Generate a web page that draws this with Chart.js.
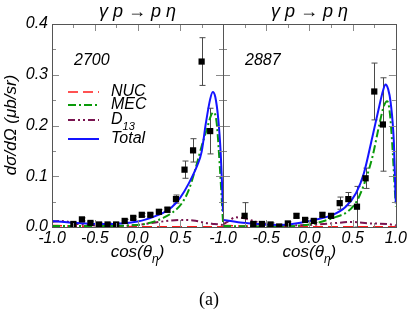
<!DOCTYPE html>
<html><head><meta charset="utf-8">
<script src="https://cdn.jsdelivr.net/npm/chart.js@4.4.0/dist/chart.umd.min.js"></script>
<style>
html,body{margin:0;padding:0;background:#fff;overflow:hidden}
#wrap{position:relative;width:409px;height:314px;background:#fff}
canvas{position:absolute;left:0;top:0}
</style></head><body>
<div id="wrap"><canvas id="c1" width="409" height="314"></canvas><canvas id="c2" width="409" height="314"></canvas></div>
<script>
// ---------- data ----------
const panelTitles = ['γ p → p η', 'γ p → p η'];
const panelEnergies = ['2700', '2887'];
const legendLabels = ['NUC', 'MEC', 'D', 'Total'];
const xTickVals = [-1.0, -0.75, -0.5, -0.25, 0.0, 0.25, 0.5, 0.75, 1.0];
const yTickVals = [0.0, 0.05, 0.1, 0.15, 0.2, 0.25, 0.3, 0.35, 0.4];

// measured points (cos theta)
const ptX = [-0.75,-0.65,-0.55,-0.45,-0.35,-0.25,-0.15,-0.05,0.05,0.15,0.25,0.35,0.45,0.55,0.65,0.75,0.85];
const leftPtY   = [0.006,0.015,0.008,0.005,0.005,0.005,0.012,0.018,0.024,0.024,0.030,0.034,0.055,0.113,0.151,0.326,0.189];
const leftPtErr = [0.003,0.003,0.003,0.003,0.003,0.003,0.003,0.003,0.003,0.003,0.004,0.005,0.008,0.017,0.023,0.047,0.045];
const rightPtY   = [0.022,0.006,0.006,0.005,0.001,0.007,0.022,0.014,0.012,0.024,0.022,0.047,0.055,0.040,0.096,0.267,0.202];
const rightPtErr = [0.026,0.003,0.003,0.003,0.003,0.003,0.004,0.003,0.003,0.004,0.004,0.012,0.013,0.040,0.020,0.056,0.092];

// left panel curves
const lTotX = [-1.0,-0.8,-0.6,-0.4,-0.2,0.0,0.1,0.2,0.3,0.4,0.5,0.6,0.7,0.75,0.8,0.85,0.88,0.91,0.945,0.973,0.99,1.0];
const lTotY = [0.012,0.009,0.007,0.006,0.007,0.011,0.015,0.021,0.028,0.039,0.058,0.086,0.122,0.148,0.205,0.252,0.266,0.256,0.212,0.146,0.080,0.030];
const lMecX = [-1.0,-0.5,0.0,0.15,0.3,0.42,0.52,0.6,0.67,0.75,0.81,0.86,0.89,0.926,0.965,0.99,1.0];
const lMecY = [0.002,0.002,0.004,0.0085,0.018,0.030,0.047,0.073,0.110,0.159,0.192,0.220,0.226,0.205,0.113,0.040,0.010];
const lNucX = [-1.0,-0.8,-0.5,0.0,0.5,1.0];
const lNucY = [0.003,0.002,0.001,0.0006,0.0005,0.0005];
const lD13X = [-1.0,-0.92,-0.8,-0.7,-0.5,-0.3,0.0,0.25,0.5,0.65,0.8,0.9,1.0];
const lD13Y = [0.010,0.012,0.010,0.006,0.003,0.002,0.004,0.010,0.014,0.013,0.008,0.006,0.004];

// right panel curves
const rTotX = [-1.0,-0.8,-0.6,-0.35,-0.2,0.0,0.27,0.42,0.54,0.63,0.73,0.8,0.85,0.88,0.91,0.94,0.977,0.995,1.0];
const rTotY = [0.014,0.009,0.006,0.004,0.006,0.012,0.024,0.040,0.067,0.106,0.179,0.232,0.268,0.281,0.272,0.245,0.166,0.067,0.047];
const rMecX = [-1.0,-0.5,0.0,0.31,0.44,0.555,0.65,0.73,0.805,0.86,0.9,0.93,0.957,0.99,1.0];
const rMecY = [0.002,0.001,0.005,0.020,0.030,0.053,0.093,0.139,0.199,0.238,0.248,0.225,0.166,0.067,0.040];
const rNucX = [-1.0,-0.8,-0.5,0.0,0.5,1.0];
const rNucY = [0.003,0.002,0.001,0.0006,0.0005,0.0005];
const rD13X = [-1.0,-0.93,-0.86,-0.75,-0.65,-0.54,-0.3,0.0,0.25,0.5,0.7,0.9,1.0];
const rD13Y = [0.005,0.012,0.019,0.017,0.012,0.007,0.003,0.004,0.007,0.010,0.007,0.006,0.003];

// ---------- styles ----------
const FONT = '"Liberation Sans", Arial, sans-serif';
const C_TOT = '#1414ff', C_MEC = '#0a9a0a', C_NUC = '#ff1a1a', C_D13 = '#7a1450';
const DASH_NUC = [10,5], DASH_MEC = [8,3,2,3], DASH_D13 = [7,3,2,3,2,3];

function xy(xs, ys){ return xs.map((x,i)=>({x:x, y:ys[i]})); }
function curve(xs, ys, color, w, dash, order){
  return {type:'scatter', data:xy(xs,ys), showLine:true, pointRadius:0, borderColor:color, backgroundColor:color,
          borderWidth:w, borderDash:dash, cubicInterpolationMode:'monotone', order:order};
}
function pointsSet(ys, errs){
  return {type:'scatter', data:xy(ptX,ys), pointStyle:'rect', pointRadius:4.4, backgroundColor:'#000',
          borderColor:'#000', borderWidth:0, order:0, errors:errs};
}

function panelPlugin(idx){
  return {
    id:'panel'+idx,
    beforeDatasetsDraw(chart){
      const ctx = chart.ctx, xs = chart.scales.x, ys = chart.scales.y, a = chart.chartArea;
      ctx.save();
      ctx.beginPath(); ctx.rect(a.left, a.top, a.right-a.left, a.bottom-a.top); ctx.clip();
      ctx.strokeStyle = '#4a4a4a'; ctx.lineWidth = 1;
      chart.data.datasets.forEach(ds=>{
        if(!ds.errors) return;
        ds.data.forEach((p,i)=>{
          const e = ds.errors[i];
          const px = Math.round(xs.getPixelForValue(p.x))+0.5;
          const y1 = ys.getPixelForValue(p.y+e), y2 = ys.getPixelForValue(p.y-e);
          ctx.beginPath();
          ctx.moveTo(px,y1); ctx.lineTo(px,y2);
          ctx.moveTo(px-3,y1); ctx.lineTo(px+3,y1);
          ctx.moveTo(px-3,y2); ctx.lineTo(px+3,y2);
          ctx.stroke();
        });
      });
      ctx.restore();
    },
    afterDraw(chart){
      const ctx = chart.ctx, xs = chart.scales.x, ys = chart.scales.y, a = chart.chartArea;
      ctx.save();
      // ticks inward
      ctx.strokeStyle = '#8a8a8a'; ctx.lineWidth = 1;
      ctx.beginPath();
      xTickVals.forEach(v=>{
        const px = Math.round(xs.getPixelForValue(v))+0.5;
        const L = (Math.abs(v*2 - Math.round(v*2))<1e-6) ? 7 : 4;
        ctx.moveTo(px,a.bottom); ctx.lineTo(px,a.bottom-L);
        ctx.moveTo(px,a.top); ctx.lineTo(px,a.top+L);
      });
      yTickVals.forEach(v=>{
        const py = Math.round(ys.getPixelForValue(v))+0.5;
        const L = (Math.abs(v*10 - Math.round(v*10))<1e-6) ? 7 : 4;
        ctx.moveTo(a.left,py); ctx.lineTo(a.left+L,py);
        ctx.moveTo(a.right,py); ctx.lineTo(a.right-L,py);
      });
      ctx.stroke();
      // frame
      ctx.strokeStyle = '#555'; ctx.lineWidth = 1;
      ctx.strokeRect(Math.round(a.left)+0.5, Math.round(a.top)+0.5, Math.round(a.right-a.left), Math.round(a.bottom-a.top));
      const cx = (a.left+a.right)/2;
      ctx.fillStyle = '#000';
      // title
      ctx.font = 'italic 18px ' + FONT; ctx.textAlign='center'; ctx.textBaseline='middle';
      ctx.fillText(panelTitles[idx], cx, 12);
      // energy
      ctx.font = 'italic 16px ' + FONT; ctx.textAlign='left';
      ctx.fillText(panelEnergies[idx], a.left+22, 61);
      // x title cos(θη)
      const f1 = 'italic 17px '+FONT, f2 = 'italic 12px '+FONT;
      ctx.textBaseline='alphabetic'; ctx.textAlign='left';
      ctx.font=f1; const w1 = ctx.measureText('cos(θ').width, w3 = ctx.measureText(')').width;
      ctx.font=f2; const w2 = ctx.measureText('η').width;
      let sx = cx - (w1+w2+w3)/2;
      ctx.font=f1; ctx.fillText('cos(θ', sx, 257);
      ctx.font=f2; ctx.fillText('η', sx+w1, 263);
      ctx.font=f1; ctx.fillText(')', sx+w1+w2, 257);
      if(idx===0){
        // y title
        ctx.save();
        ctx.translate(11, 125); ctx.rotate(-Math.PI/2);
        ctx.font = 'italic 17px '+FONT; ctx.textAlign='center'; ctx.textBaseline='middle';
        ctx.fillText('dσ/dΩ (μb/sr)', 0, 0);
        ctx.restore();
        // legend
        const rows = [
          {y:92, c:C_NUC, d:DASH_NUC, w:1.6},
          {y:105, c:C_MEC, d:DASH_MEC, w:1.8},
          {y:120, c:C_D13, d:DASH_D13, w:1.8},
          {y:139, c:C_TOT, d:[], w:2}
        ];
        rows.forEach((r,i)=>{
          ctx.save();
          ctx.strokeStyle=r.c; ctx.lineWidth=r.w; ctx.setLineDash(r.d);
          ctx.beginPath(); ctx.moveTo(68,r.y); ctx.lineTo(99,r.y); ctx.stroke();
          ctx.restore();
          ctx.font='italic 16px '+FONT; ctx.textAlign='left'; ctx.textBaseline='middle'; ctx.fillStyle='#000';
          ctx.fillText(legendLabels[i], 111, r.y);
          if(i===2){
            const wd = ctx.measureText('D').width;
            ctx.font='italic 11px '+FONT;
            ctx.fillText('13', 111+wd, r.y+7);
          }
        });
        // (a)
        ctx.font = '18px "Liberation Serif", "Times New Roman", serif';
        ctx.textAlign='center'; ctx.textBaseline='middle';
        ctx.fillText('(a)', 209, 300);
      }
      ctx.restore();
    }
  };
}

function makeChart(canvasId, idx, pts, errs, curves, padLeft, padRight, showY){
  return new Chart(document.getElementById(canvasId), {
    type:'scatter',
    data:{datasets:[pointsSet(pts, errs)].concat(curves)},
    options:{
      responsive:false, animation:false, events:[],
      plugins:{legend:{display:false}, tooltip:{enabled:false}, title:{display:false}},
      layout:{padding:{left:padLeft, right:padRight, top:24, bottom:0}},
      scales:{
        x:{type:'linear', min:-1, max:1,
           grid:{display:false, drawTicks:false}, border:{display:false},
           ticks:{stepSize:0.5, padding:2, color:'#000', maxRotation:0, autoSkip:false,
                  font:{family:FONT, size:16, style:'italic'},
                  callback:(v)=> (idx===0 && v>=0.999) ? null : Number(v).toFixed(1)},
           afterFit(s){ s.height = 87; }},
        y:{type:'linear', min:0, max:0.4, display:showY,
           grid:{display:false, drawTicks:false}, border:{display:false},
           ticks:{stepSize:0.1, padding:4, color:'#000',
                  font:{family:FONT, size:16, style:'italic'},
                  callback:(v)=> Number(v).toFixed(1)},
           afterFit(s){ s.width = showY ? 52 : 0; }}
      }
    },
    plugins:[panelPlugin(idx)]
  });
}

makeChart('c1', 0, leftPtY, leftPtErr, [
  curve(lTotX, lTotY, C_TOT, 2, [], 1),
  curve(lMecX, lMecY, C_MEC, 2, DASH_MEC, 2),
  curve(lD13X, lD13Y, C_D13, 2, DASH_D13, 3),
  curve(lNucX, lNucY, C_NUC, 1.6, DASH_NUC, 4)
], 0, 186, true);

makeChart('c2', 1, rightPtY, rightPtErr, [
  curve(rTotX, rTotY, C_TOT, 2, [], 1),
  curve(rMecX, rMecY, C_MEC, 2, DASH_MEC, 2),
  curve(rD13X, rD13Y, C_D13, 2, DASH_D13, 3),
  curve(rNucX, rNucY, C_NUC, 1.6, DASH_NUC, 4)
], 223, 12, false);
</script>
</body></html>
